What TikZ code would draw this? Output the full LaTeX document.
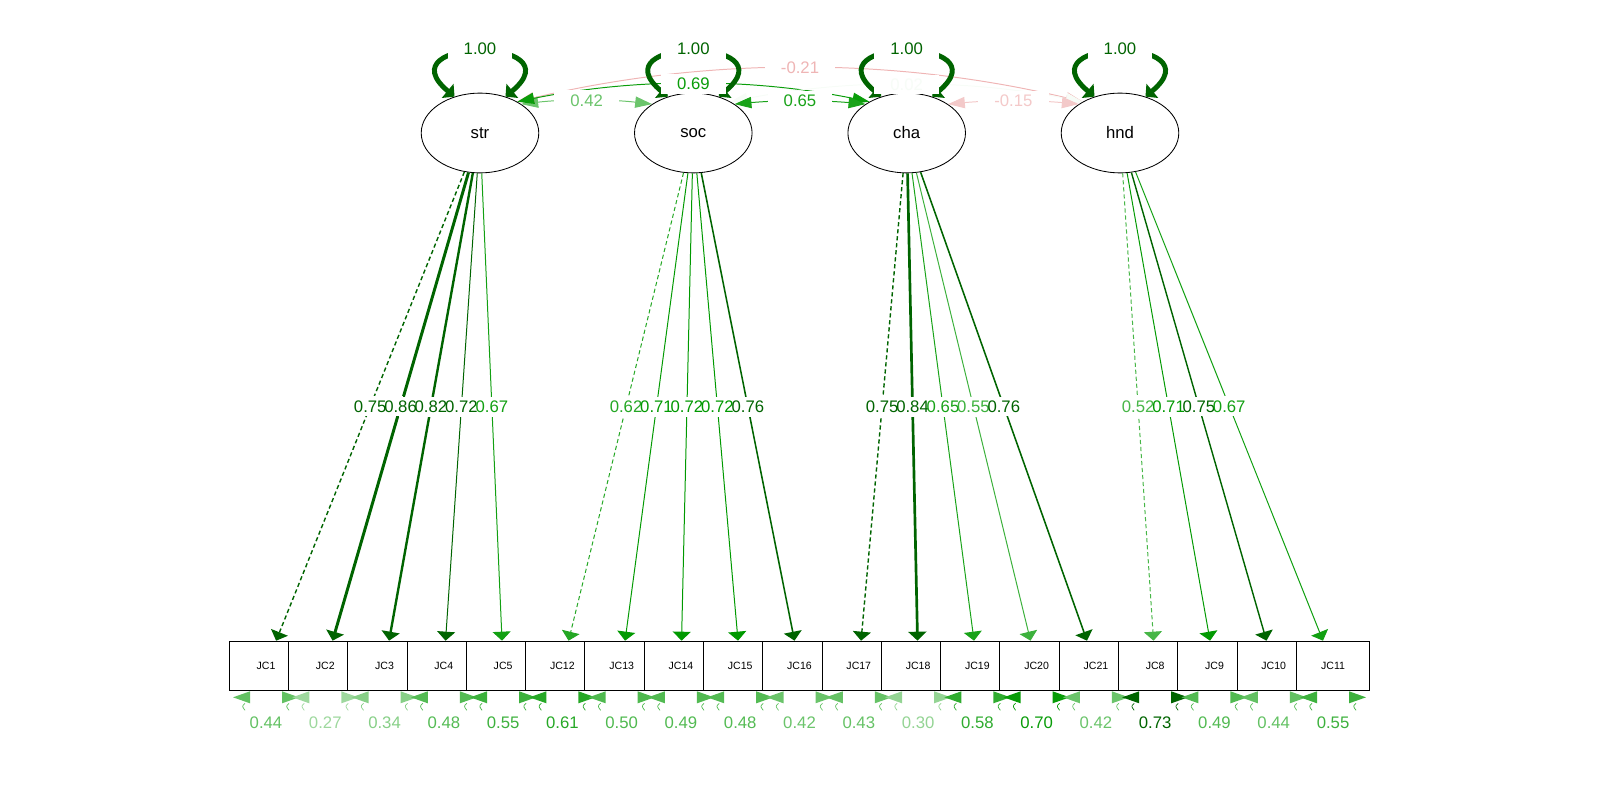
\documentclass[tikz,border=0pt]{standalone}
\usepackage{fontspec}
\setmainfont{Liberation Sans}
\usetikzlibrary{arrows.meta,calc,shapes.geometric}
\definecolor{pg}{RGB}{0,153,0}
\definecolor{dg}{RGB}{0,100,0}
\definecolor{ng}{RGB}{200,0,0}

% residual variance of an indicator: a tiny two-headed loop under its box
\newcommand\resloop[3]{%
  \fill[#2] ($(#1.south)+(-33,6)$) -- ($(#1.south)+(-16,0)$) -- ($(#1.south)+(-16,12)$) -- cycle;
  \fill[#2] ($(#1.south)+(33,6)$) -- ($(#1.south)+(16,0)$) -- ($(#1.south)+(16,12)$) -- cycle;
  \draw[#2, line width=0.5pt] ($(#1.south)+(-21,12)$) .. controls +(-4,3) and +(-2,-3) .. ($(#1.south)+(-21,19)$);
  \draw[#2, line width=0.5pt] ($(#1.south)+(23,12)$) .. controls +(-4,3) and +(-2,-3) .. ($(#1.south)+(23,19)$);
  \node[rl, text=#2] (r#1) at ($(#1.south)+(0,31)$) {#3};
}

\begin{document}
\begin{tikzpicture}[x=0.025cm, y=-0.025cm,
  lat/.style={ellipse, draw=black, line width=0.6pt, fill=white,
    minimum width=83.6pt, minimum height=56.7pt, inner sep=0pt,
    font=\fontsize{11.9}{14}\selectfont},
  man/.style={rectangle, draw=black, line width=0.6pt, fill=white,
    minimum width=52.4pt, minimum height=35.4pt, inner sep=0pt,
    font=\fontsize{7.5}{8}\selectfont},
  ld/.style={-{Triangle[length=6.4pt,width=12.8pt]}},
  fixed/.style={dash pattern=on 3pt off 2pt},
  free/.style={},
  cov/.style={{Triangle[length=12pt,width=8pt]}-{Triangle[length=12pt,width=8pt]}, line width=0.7pt},
  selfloop/.style={{Triangle[length=6.4pt,width=12.8pt]}-{Triangle[length=6.4pt,width=12.8pt]},
    line width=3.5pt, draw=dg},
  bgbox/.style={fill=white, inner xsep=11.5pt, inner ysep=2.8pt, font=\fontsize{11.9}{14}\selectfont},
  lbl/.style={inner xsep=11.5pt, inner ysep=2.8pt, font=\fontsize{11.9}{14}\selectfont},
  rl/.style={inner sep=1pt, font=\fontsize{11.9}{14}\selectfont},
]
\useasboundingbox (0,0) rectangle (1600,800);

% latent factors
\node[lat] (str) at (480,133) {str};
\node[lat] (soc) at (693.3,133) {soc};
\node[lat] (cha) at (906.7,133) {cha};
\node[lat] (hnd) at (1120,133) {hnd};

% indicators, each box overlapping the previous one
\foreach \n [count=\i from 0] in {JC1,JC2,JC3,JC4,JC5,JC12,JC13,JC14,JC15,JC16,JC17,JC18,JC19,JC20,JC21,JC8,JC9,JC10,JC11}
  \node[man] (\n) at ({266+59.28*\i},666) {\n};

% factor loadings
\foreach \l/\m/\d/\w/\c in {
  str/JC1/fixed/1.0/dg, str/JC2/free/2.1/dg, str/JC3/free/1.7/dg, str/JC4/free/0.71/dg, str/JC5/free/0.71/pg!93,
  soc/JC12/fixed/0.71/pg!86, soc/JC13/free/0.71/pg!99, soc/JC14/free/0.71/pg, soc/JC15/free/0.71/pg, soc/JC16/free/1.1/dg,
  cha/JC17/fixed/1.0/dg, cha/JC18/free/1.9/dg, cha/JC19/free/0.71/pg!90, cha/JC20/free/0.71/pg!76, cha/JC21/free/1.1/dg,
  hnd/JC8/fixed/0.71/pg!72, hnd/JC9/free/0.71/pg!99, hnd/JC10/free/1.0/dg, hnd/JC11/free/0.71/pg!93}
  \draw[ld, color=\c, line width=\w pt, \d] (\l) -- (\m) coordinate[pos=0.5] (m\m);

% factor covariances
\draw[cov, color=pg!58] (str.35) .. controls +(43,-5) and +(-43,-5) .. (soc.145) coordinate[pos=0.5] (cSS);
\draw[cov, color=ng!29] (str.40) .. controls +(189,-45) and +(-189,-45) .. (hnd.140) coordinate[pos=0.5] (cSH);
\draw[cov, color=pg!96] (str.40) .. controls +(118,-24) and +(-118,-24) .. (cha.140) coordinate[pos=0.5] (cSC);
\draw[cov, color=pg!3] (soc.40) .. controls +(117,-23) and +(-117,-23) .. (hnd.140) coordinate[pos=0.5] (cOH);
\draw[cov, color=pg!90] (soc.35) .. controls +(44,-4) and +(-44,-4) .. (cha.145) coordinate[pos=0.5] (cOC);
\draw[cov, color=ng!21] (cha.35) .. controls +(44,-4) and +(-44,-4) .. (hnd.145) coordinate[pos=0.5] (cCH);

% factor variances
\foreach \l in {str,soc,cha,hnd} {
  \draw[selfloop] (\l.125) .. controls +(-72,-60) and +(72,-60) .. (\l.55);
  \coordinate (v\l) at ($(\l)+(0,-84)$);
}

% residual variances
\foreach \m/\c/\t in {JC1/pg!61/0.44, JC2/pg!38/0.27, JC3/pg!47/0.34, JC4/pg!67/0.48, JC5/pg!76/0.55,
  JC12/pg!85/0.61, JC13/pg!69/0.50, JC14/pg!68/0.49, JC15/pg!67/0.48, JC16/pg!58/0.42,
  JC17/pg!60/0.43, JC18/pg!42/0.30, JC19/pg!81/0.58, JC20/pg!97/0.70, JC21/pg!58/0.42,
  JC8/dg/0.73, JC9/pg!68/0.49, JC10/pg!61/0.44, JC11/pg!76/0.55}
  \resloop{\m}{\c}{\t};

% label backgrounds, then label texts
\foreach \p/\t in {mJC1/0.75, mJC2/0.86, mJC3/0.82, mJC4/0.72, mJC5/0.67,
  mJC12/0.62, mJC13/0.71, mJC14/0.72, mJC15/0.72, mJC16/0.76,
  mJC17/0.75, mJC18/0.84, mJC19/0.65, mJC20/0.55, mJC21/0.76,
  mJC8/0.52, mJC9/0.71, mJC10/0.75, mJC11/0.67,
  cSS/0.42, cSC/0.69, cSH/-0.21, cOC/0.65, cOH/0.02, cCH/-0.15,
  vstr/1.00, vsoc/1.00, vcha/1.00, vhnd/1.00}
  \node[bgbox] (b\p) at (\p) {\phantom{\t}};

\foreach \p/\t/\c in {mJC1/0.75/dg, mJC2/0.86/dg, mJC3/0.82/dg, mJC4/0.72/dg, mJC5/0.67/pg!93,
  mJC12/0.62/pg!86, mJC13/0.71/pg!99, mJC14/0.72/pg, mJC15/0.72/pg, mJC16/0.76/dg,
  mJC17/0.75/dg, mJC18/0.84/dg, mJC19/0.65/pg!90, mJC20/0.55/pg!76, mJC21/0.76/dg,
  mJC8/0.52/pg!72, mJC9/0.71/pg!99, mJC10/0.75/dg, mJC11/0.67/pg!93,
  cSS/0.42/pg!58, cSC/0.69/pg!96, cSH/-0.21/ng!29, cOC/0.65/pg!90, cOH/0.02/pg!3, cCH/-0.15/ng!21,
  vstr/1.00/dg, vsoc/1.00/dg, vcha/1.00/dg, vhnd/1.00/dg}
  \node[lbl, text=\c] (t\p) at (\p) {\t};
\end{tikzpicture}
\end{document}
